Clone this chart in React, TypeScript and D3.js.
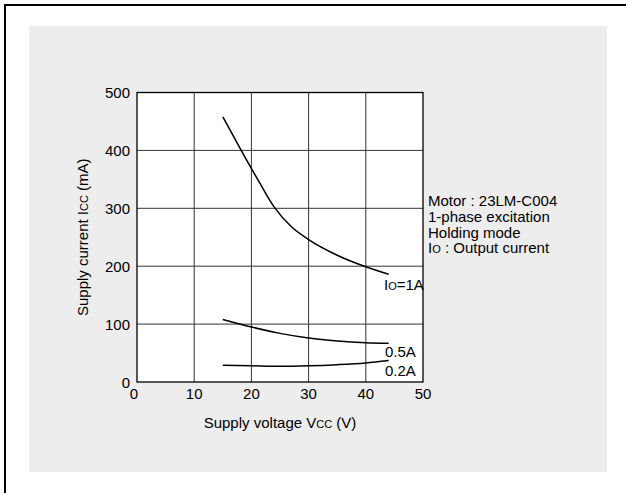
import React, { useEffect, useRef } from 'react';
import * as d3 from 'd3';

// Io = 1A, 0.5A, 0.2A curves: [Vcc (V), Icc (mA)]
const curve1A: [number, number][] = [
  [15, 458], [18, 404], [21.5, 343], [24, 302], [27, 268], [30, 246],
  [35, 219], [40, 199], [44, 186],
];
const curve05A: [number, number][] = [
  [15, 108], [20, 95], [25, 84], [30, 76], [35, 71], [40, 68], [44, 67],
];
const curve02A: [number, number][] = [
  [15, 29], [20, 28], [25, 27], [30, 28], [35, 30], [40, 33], [44, 37],
];
const xTicks = [0, 10, 20, 30, 40, 50];
const yTicks = [0, 100, 200, 300, 400, 500];
const noteLines = ['Motor : 23LM-C004', '1-phase excitation', 'Holding mode'];

const FONT = 'Liberation Sans, Arial, sans-serif';

const App = () => {
  const ref = useRef<SVGSVGElement>(null);

  useEffect(() => {
    const svg = d3.select(ref.current);
    svg.selectAll('*').remove();

    // outer frame (only top and left edges visible)
    svg.append('path')
      .attr('d', 'M5,493 L5,5 L626,5')
      .attr('fill', 'none')
      .attr('stroke', '#000')
      .attr('stroke-width', 2);

    svg.append('rect')
      .attr('x', 29).attr('y', 26)
      .attr('width', 578).attr('height', 446)
      .attr('fill', '#ededed');

    const x = d3.scaleLinear().domain([0, 50]).range([137, 423]);
    const y = d3.scaleLinear().domain([0, 500]).range([382, 92.5]);

    svg.append('rect')
      .attr('x', x(0)).attr('y', y(500))
      .attr('width', x(50) - x(0)).attr('height', y(0) - y(500))
      .attr('fill', '#fff');

    const g = svg.append('g');
    g.selectAll('line.vx')
      .data(xTicks.slice(1, -1))
      .enter().append('line')
      .attr('x1', d => x(d)).attr('x2', d => x(d))
      .attr('y1', y(0)).attr('y2', y(500))
      .attr('stroke', '#333').attr('stroke-width', 1);
    g.selectAll('line.hy')
      .data(yTicks.slice(1, -1))
      .enter().append('line')
      .attr('x1', x(0)).attr('x2', x(50))
      .attr('y1', d => y(d)).attr('y2', d => y(d))
      .attr('stroke', '#333').attr('stroke-width', 1);

    svg.append('rect')
      .attr('x', x(0)).attr('y', y(500))
      .attr('width', x(50) - x(0)).attr('height', y(0) - y(500))
      .attr('fill', 'none').attr('stroke', '#000').attr('stroke-width', 1.3);

    svg.selectAll('text.xt')
      .data(xTicks)
      .enter().append('text')
      .attr('x', d => x(d) - (d === 0 ? 3 : 0))
      .attr('y', y(0) + 17)
      .attr('text-anchor', 'middle')
      .attr('font-family', FONT).attr('font-size', 15)
      .text(d => d);

    svg.selectAll('text.yt')
      .data(yTicks)
      .enter().append('text')
      .attr('x', x(0) - 7)
      .attr('y', d => y(d) + 5.5)
      .attr('text-anchor', 'end')
      .attr('font-family', FONT).attr('font-size', 15)
      .text(d => d);

    const line = d3.line<[number, number]>()
      .x(d => x(d[0])).y(d => y(d[1]))
      .curve(d3.curveMonotoneX);

    [curve1A, curve05A, curve02A].forEach(c => {
      svg.append('path')
        .attr('d', line(c))
        .attr('fill', 'none')
        .attr('stroke', '#000')
        .attr('stroke-width', 1.5);
    });

    // curve labels
    const lab1 = svg.append('text')
      .attr('x', 384).attr('y', 290)
      .attr('font-family', FONT).attr('font-size', 15);
    lab1.append('tspan').text('I');
    lab1.append('tspan').attr('font-size', 11).text('O');
    lab1.append('tspan').text('=1A');

    svg.append('text')
      .attr('x', 385).attr('y', 357)
      .attr('font-family', FONT).attr('font-size', 15)
      .text('0.5A');
    svg.append('text')
      .attr('x', 385).attr('y', 376)
      .attr('font-family', FONT).attr('font-size', 15)
      .text('0.2A');

    // condition note
    noteLines.forEach((t, i) => {
      svg.append('text')
        .attr('x', 428).attr('y', 206 + i * 15.8)
        .attr('font-family', FONT).attr('font-size', 15)
        .text(t);
    });
    const n4 = svg.append('text')
      .attr('x', 428).attr('y', 206 + 3 * 15.8)
      .attr('font-family', FONT).attr('font-size', 15);
    n4.append('tspan').text('I');
    n4.append('tspan').attr('font-size', 11).text('O');
    n4.append('tspan').text(' : Output current');

    // axis titles
    const xt = svg.append('text')
      .attr('x', x(25)).attr('y', 428)
      .attr('text-anchor', 'middle')
      .attr('font-family', FONT).attr('font-size', 15);
    xt.append('tspan').text('Supply voltage V');
    xt.append('tspan').attr('font-size', 11).text('CC');
    xt.append('tspan').text(' (V)');

    const yt = svg.append('text')
      .attr('transform', `translate(${88},${y(250)}) rotate(-90)`)
      .attr('text-anchor', 'middle')
      .attr('font-family', FONT).attr('font-size', 15);
    yt.append('tspan').text('Supply current I');
    yt.append('tspan').attr('font-size', 11).text('CC');
    yt.append('tspan').text(' (mA)');
  }, []);

  return (
    <svg ref={ref} width={626} height={493}
      style={{ position: 'absolute', left: 0, top: 0, background: '#fff' }} />
  );
};

export default App;
